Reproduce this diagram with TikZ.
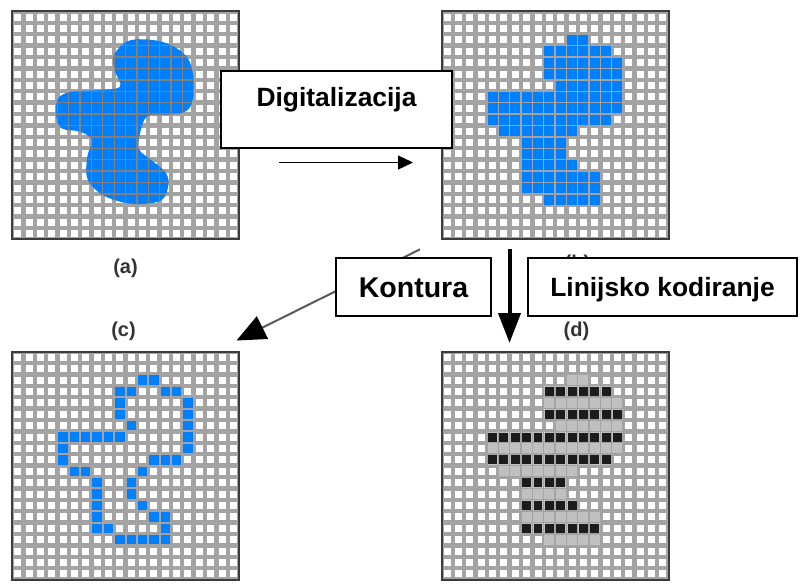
\documentclass[tikz,border=0pt]{standalone}
\usepackage{fontspec}
\setmainfont{Liberation Sans}
\usetikzlibrary{arrows.meta}
\definecolor{pixblue}{RGB}{0,128,255}
\definecolor{bandgray}{RGB}{163,163,163}
\definecolor{linegray}{RGB}{128,128,128}
\definecolor{shapegray}{RGB}{192,192,192}
\definecolor{darkcell}{RGB}{28,28,28}
\definecolor{bordergray}{RGB}{60,60,60}

\newcommand{\pixgridbg}{%
  \fill[bandgray] (0,0) rectangle (227,228);
  \foreach \i in {0,...,19}{\foreach \j in {0,...,19}{%
    \fill[white] ({11.35*\i+2.2},{11.4*\j+2.2}) rectangle ++(7,7);}}%
}
\newcommand{\pixgridborder}{\draw[bordergray, line width=2pt] (0,0) rectangle (227,228);}
\newcommand{\blobpath}{plot[smooth cycle, tension=0.6] coordinates {
 (103,41.5) (114.7,30.2) (131.3,27.8) (154.7,31.8) (174.7,45.2) (181.3,65.2)
 (180.7,88.5) (173,100.2) (151.3,103.5) (134.7,105.2) (128,121.8) (126.3,136.8)
 (134.7,145.2) (153,160.2) (156.3,173.5) (149.7,188.5) (128,192.5) (108,190.2)
 (88,181.8) (75.3,166.8) (75.3,145.2) (79.7,128.5) (68,120.2) (49.7,116.8)
 (44,103.5) (46.3,86.8) (59.7,80.2) (88,78.5) (108,75.2) (103,60.2) (101.3,50.2)}}

\begin{document}
\begin{tikzpicture}[x=1pt,y=-1pt,
  box/.style={draw=black, line width=1.5pt, fill=white, inner xsep=0pt, inner ysep=0pt,
    font=\fontsize{26.4}{30}\selectfont\bfseries},
  caption/.style={font=\fontsize{20}{22}\selectfont\bfseries, text=black!80, inner sep=0pt},
  bluecell/.style={fill=pixblue},
  graycell/.style={fill=shapegray},
  blackcell/.style={fill=darkcell}]
\useasboundingbox[fill=white] (0,0) rectangle (803,585);

% ---- grid (a): original shape
\begin{scope}[shift={(12,11.5)}]
  \pixgridbg
  \fill[pixblue] \blobpath;
  \begin{scope}
    \clip \blobpath;
    \foreach \i in {1,...,19}{%
      \draw[linegray, line width=1.3pt] ({11.35*\i},0) -- ({11.35*\i},228);
      \draw[linegray, line width=1.3pt] (0,{11.4*\i}) -- (227,{11.4*\i});}
  \end{scope}
  \pixgridborder
\end{scope}

% ---- grid (b): digitised
\begin{scope}[shift={(441.5,11.5)}]
  \pixgridbg
  \foreach \r/\a/\b in {2/11/12,3/9/14,4/9/15,5/9/15,6/10/15,7/4/15,8/4/15,9/4/14,
      10/5/11,11/7/10,12/7/10,13/7/11,14/7/13,15/7/13,16/9/13}{%
    \foreach \c in {\a,...,\b}{%
      \fill[bluecell] ({11.35*\c+0.65},{11.4*\r+0.7}) rectangle ++(10.05,10);}}
  \pixgridborder
\end{scope}

% ---- grid (c): contour
\begin{scope}[shift={(12,351.5)}]
  \pixgridbg
  \foreach \r/\c in {2/11,2/12,3/9,3/10,3/13,3/14,4/9,4/15,5/9,5/15,6/10,6/15,
      7/4,7/5,7/6,7/7,7/8,7/9,7/15,8/4,8/15,9/4,9/12,9/13,9/14,10/5,10/6,10/11,
      11/7,11/10,12/7,12/10,13/7,13/11,14/7,14/12,14/13,15/7,15/8,15/13,
      16/9,16/10,16/11,16/12,16/13}{%
    \fill[bluecell] ({11.35*\c+1},{11.4*\r+1}) rectangle ++(9.35,9.4);}
  \pixgridborder
\end{scope}

% ---- grid (d): line coding
\begin{scope}[shift={(441.5,351.5)}]
  \pixgridbg
  \foreach \r/\a/\b in {2/11/12,3/9/14,4/9/15,5/9/15,6/10/15,7/4/15,8/4/15,9/4/14,
      10/5/11,11/7/10,12/7/10,13/7/11,14/7/13,15/7/13,16/9/13}{%
    \foreach \c in {\a,...,\b}{%
      \fill[graycell] ({11.35*\c+0.65},{11.4*\r+0.7}) rectangle ++(10.05,10);}}
  \foreach \r/\a/\b in {3/9/14,5/9/15,7/4/15,9/4/14,11/7/10,13/7/11,15/7/13}{%
    \foreach \c in {\a,...,\b}{%
      \fill[blackcell] ({11.35*\c+1.2},{11.4*\r+1.2}) rectangle ++(8.95,9);}}
  \pixgridborder
\end{scope}

% ---- captions
\node[caption] (capa) at (125.5,268) {(a)};
\node[caption] (capb) at (577.5,264.5) {(b)};
\node[caption] (capc) at (123.5,331.5) {(c)};
\node[caption] (capd) at (576.5,331.5) {(d)};

% ---- arrows
\coordinate (digfrom) at (279,162.5);
\coordinate (digto) at (413,162.5);
\draw[line width=1.3pt, -{Triangle[length=15pt,width=14pt]}] (digfrom) -- (digto);

\coordinate (linfrom) at (509.5,249);
\coordinate (linto) at (509.5,343);
\draw[line width=4pt, -{Triangle[length=30pt,width=22pt]}] (linfrom) -- (linto);

\coordinate (konfrom) at (420,249.3);
\coordinate (konto) at (236.5,340.5);
\draw[black!65, line width=2pt, -{Triangle[length=29pt,width=25pt,color=black]}] (konfrom) -- (konto);

% ---- boxes
\node[box, minimum width=231pt, text height=35.7pt, text depth=41.3pt] (dig) at (336.5,109.5) {Digitalizacija};
\node[box, font=\fontsize{28.5}{32}\selectfont\bfseries, minimum width=155pt, text height=39.5pt, text depth=18.5pt] (kon) at (413.5,287.2) {Kontura};
\node[box, minimum width=269pt, text height=38.5pt, text depth=19.5pt] (lin) at (662.5,287.2) {Linijsko kodiranje};
\end{tikzpicture}
\end{document}
